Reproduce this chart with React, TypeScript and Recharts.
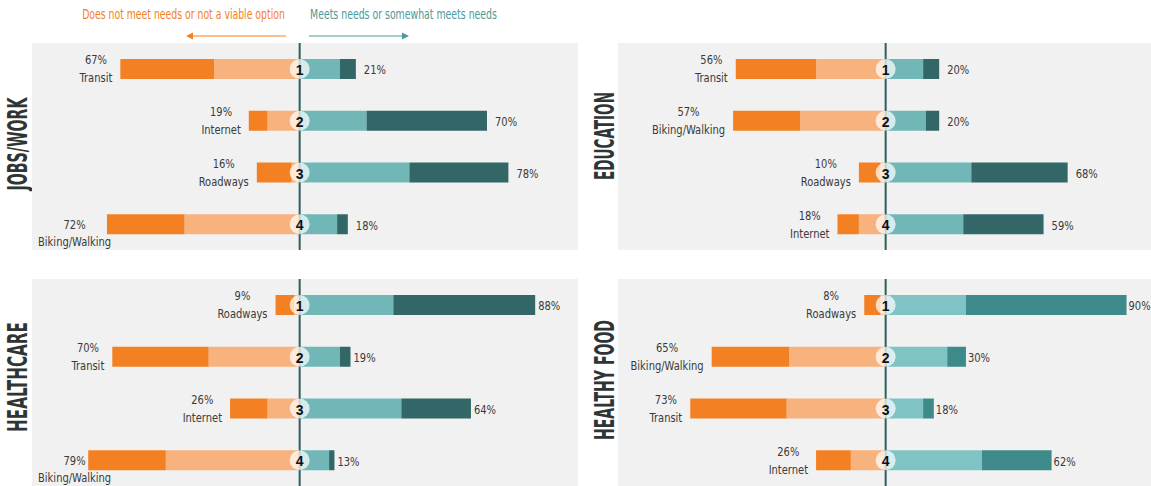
import React from 'react';
import { ComposedChart, Bar, XAxis, YAxis, ReferenceLine, LabelList } from 'recharts';

// ---------- DATA ----------
const rankLabels = ['1', '2', '3', '4'];

const jobsCategories = ['Transit', 'Internet', 'Roadways', 'Biking/Walking'];
const jobsNotViable = [35, 7, 13, 29];
const jobsNotMeet = [32, 12, 3, 43];
const jobsSomewhat = [15, 25, 41, 14];
const jobsMeets = [6, 45, 37, 4];

const eduCategories = ['Transit', 'Biking/Walking', 'Roadways', 'Internet'];
const eduNotViable = [30, 25, 8, 8];
const eduNotMeet = [26, 32, 2, 10];
const eduSomewhat = [14, 15, 32, 29];
const eduMeets = [6, 5, 36, 30];

const healthCategories = ['Roadways', 'Transit', 'Internet', 'Biking/Walking'];
const healthNotViable = [7, 36, 14, 29];
const healthNotMeet = [2, 34, 12, 50];
const healthSomewhat = [35, 15, 38, 11];
const healthMeets = [53, 4, 26, 2];

const foodCategories = ['Roadways', 'Biking/Walking', 'Transit', 'Internet'];
const foodNotViable = [6, 29, 36, 13];
const foodNotMeet = [2, 36, 37, 13];
const foodSomewhat = [30, 23, 14, 36];
const foodMeets = [60, 7, 4, 26];

const headerLeft = 'Does not meet needs or not a viable option';
const headerRight = 'Meets needs or somewhat meets needs';

// ---------- helpers ----------
type Row = {
  cat: string;
  rank: string;
  notMeet: number;
  notViable: number;
  somewhat: number;
  meets: number;
  leftTotal: number;
  rightTotal: number;
};

function buildRows(cats: string[], nv: number[], nm: number[], sw: number[], me: number[]): Row[] {
  return cats.map((c, i) => ({
    cat: c,
    rank: rankLabels[i],
    notMeet: -nm[i],
    notViable: -nv[i],
    somewhat: sw[i],
    meets: me[i],
    leftTotal: nm[i] + nv[i],
    rightTotal: sw[i] + me[i],
  }));
}

const FONT = '"Liberation Sans Narrow", "DejaVu Sans Condensed", "Arial Narrow", sans-serif';
const LABEL_SIZE = 13;
const LABEL_SX = 0.85;
const TEXT_COLOR = '#3a3a3a';

let ctx: CanvasRenderingContext2D | null = null;
function measure(text: string, size: number = LABEL_SIZE, weight: string = 'normal'): number {
  if (!ctx) {
    const c = document.createElement('canvas');
    ctx = c.getContext('2d');
  }
  if (!ctx) return text.length * size * 0.5;
  ctx.font = `${weight} ${size}px ${FONT}`;
  return ctx.measureText(text).width;
}

function CText({ x, y, text, anchor = 'middle', size = LABEL_SIZE, sx = LABEL_SX, fill = TEXT_COLOR }: any) {
  return (
    <text
      transform={`translate(${x} ${y}) scale(${sx} 1)`}
      x={0}
      y={0}
      textAnchor={anchor}
      dominantBaseline="central"
      fontSize={size}
      fontFamily={FONT}
      fill={fill}
    >
      {text}
    </text>
  );
}

function rectOf(p: any) {
  const v = p.viewBox && p.viewBox.x !== undefined ? p.viewBox : p;
  const x = Number(v.x);
  const y = Number(v.y);
  const w = Number(v.width);
  const h = Number(v.height);
  return { l: Math.min(x, x + w), r: Math.max(x, x + w), t: Math.min(y, y + h), h: Math.abs(h) };
}

const ORANGE_DARK = '#F38123';
const ORANGE_LIGHT = '#F8B27E';
const GRAY_BG = '#F1F1F1';
const LINE = '#2E5F5F';

type PanelProps = {
  rows: Row[];
  left: number;
  top: number;
  width: number;
  height: number;
  domainMax: number;
  tealLight: string;
  tealDark: string;
  rightGap: number;
};

function Panel({ rows, left, top, width, height, domainMax, tealLight, tealDark, rightGap }: PanelProps) {
  const leftLabel = (p: any) => {
    const idx = Number(p.index);
    const row = rows[idx];
    if (!row) return null;
    const { l, t, h } = rectOf(p);
    const cy = t + h / 2;
    const pct = `${row.leftTotal}%`;
    const bw = Math.max(measure(pct), measure(row.cat)) * LABEL_SX;
    let cx = l - 8 - bw / 2;
    let y1 = cy - 9;
    let y2 = cy + 9;
    if (cx - bw / 2 < 4) {
      cx = 6 + bw / 2;
      y1 = cy;
      y2 = cy + 17;
    }
    return (
      <g>
        <CText x={cx} y={y1} text={pct} />
        <CText x={cx} y={y2} text={row.cat} />
      </g>
    );
  };

  const rightLabel = (p: any) => {
    const idx = Number(p.index);
    const row = rows[idx];
    if (!row) return null;
    const { r, t, h } = rectOf(p);
    return <CText x={r + rightGap} y={t + h / 2 + 1} text={`${row.rightTotal}%`} anchor="start" />;
  };

  const rankCircle = (p: any) => {
    const idx = Number(p.index);
    const row = rows[idx];
    if (!row) return null;
    const { l, t, h } = rectOf(p);
    const cy = t + h / 2;
    return (
      <g>
        <circle cx={l} cy={cy} r={10} fill="rgba(255,255,255,0.72)" />
        <text x={l} y={cy + 1} textAnchor="middle" dominantBaseline="central" fontSize={14} fontWeight="bold" fontFamily='"Liberation Sans", Arial, sans-serif' fill="#111">
          {row.rank}
        </text>
      </g>
    );
  };

  return (
    <div style={{ position: 'absolute', left, top, width, height, background: GRAY_BG }}>
      <ComposedChart
        layout="vertical"
        width={width}
        height={height}
        data={rows}
        stackOffset="sign"
        barSize={20}
        margin={{ top: 0, right: 0, bottom: 0, left: 0 }}
      >
        <XAxis type="number" domain={[-100, domainMax]} hide allowDataOverflow />
        <YAxis type="category" dataKey="cat" hide />
        <Bar dataKey="notMeet" stackId="s" fill={ORANGE_LIGHT} isAnimationActive={false} />
        <Bar dataKey="notViable" stackId="s" fill={ORANGE_DARK} isAnimationActive={false}>
          <LabelList dataKey="notViable" content={leftLabel} />
        </Bar>
        <Bar dataKey="somewhat" stackId="s" fill={tealLight} isAnimationActive={false}>
          <LabelList dataKey="somewhat" content={rankCircle} />
        </Bar>
        <Bar dataKey="meets" stackId="s" fill={tealDark} isAnimationActive={false}>
          <LabelList dataKey="meets" content={rightLabel} />
        </Bar>
        <ReferenceLine x={0} stroke={LINE} strokeWidth={2} />
      </ComposedChart>
    </div>
  );
}

const jobsRows = buildRows(jobsCategories, jobsNotViable, jobsNotMeet, jobsSomewhat, jobsMeets);
const eduRows = buildRows(eduCategories, eduNotViable, eduNotMeet, eduSomewhat, eduMeets);
const healthRows = buildRows(healthCategories, healthNotViable, healthNotMeet, healthSomewhat, healthMeets);
const foodRows = buildRows(foodCategories, foodNotViable, foodNotMeet, foodSomewhat, foodMeets);

function SideTitle({ x, y, len, text }: { x: number; y: number; len: number; text: string }) {
  return (
    <text
      x={x}
      y={y}
      transform={`rotate(-90 ${x} ${y})`}
      textAnchor="middle"
      dominantBaseline="central"
      fontSize={26}
      fontWeight="bold"
      fontFamily={FONT}
      fill="#2f3535"
      textLength={len}
      lengthAdjust="spacingAndGlyphs"
    >
      {text}
    </text>
  );
}

function Header({ cx, text, width, color }: { cx: number; text: string; width: number; color: string }) {
  const sx = width / measure(text, 13.5);
  return <CText x={cx} y={15} text={text} size={13.5} sx={sx} fill={color} />;
}

export default function App() {
  const TEAL_L = '#72B7B7';
  const TEAL_D = '#336767';
  return (
    <div style={{ position: 'absolute', left: 0, top: 0, width: 1151, height: 486, overflow: 'hidden', background: '#fff' }}>
      <svg width={1151} height={486} style={{ position: 'absolute', left: 0, top: 0 }}>
        <Header cx={183.5} text={headerLeft} width={203} color="#F48024" />
        <Header cx={403.5} text={headerRight} width={187} color="#4E9999" />
        <line x1={190} y1={36} x2={286} y2={36} stroke="#F48024" strokeWidth={1} />
        <polygon points="186,36 193,32.5 193,39.5" fill="#F48024" />
        <line x1={309} y1={36} x2={404} y2={36} stroke="#4E9999" strokeWidth={1} />
        <polygon points="409,36 402,32.5 402,39.5" fill="#4E9999" />
        <SideTitle x={18} y={144} len={93} text="JOBS/WORK" />
        <SideTitle x={605} y={136} len={88} text="EDUCATION" />
        <SideTitle x={18} y={377} len={110} text="HEALTHCARE" />
        <SideTitle x={605} y={380} len={120} text="HEALTHY FOOD" />
      </svg>
      <Panel rows={jobsRows} left={32} top={43} width={546} height={207} domainMax={104} tealLight={TEAL_L} tealDark={TEAL_D} rightGap={8} />
      <Panel rows={eduRows} left={618} top={43} width={533} height={207} domainMax={99.14} tealLight={TEAL_L} tealDark={TEAL_D} rightGap={8} />
      <Panel rows={healthRows} left={32} top={279} width={546} height={207} domainMax={104} tealLight={TEAL_L} tealDark={TEAL_D} rightGap={3} />
      <Panel rows={foodRows} left={618} top={279} width={533} height={207} domainMax={99.14} tealLight="#7FC3C5" tealDark="#3E8989" rightGap={2} />
    </div>
  );
}
